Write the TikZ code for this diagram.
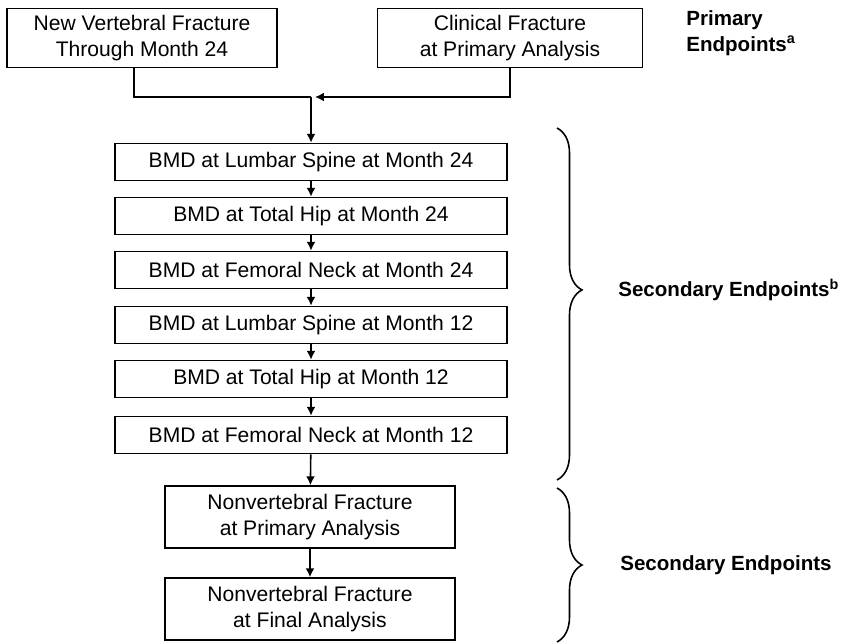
\documentclass[tikz,border=0pt]{standalone}
\usepackage{fontspec}
\setmainfont{Liberation Sans}
\usetikzlibrary{arrows.meta,decorations.pathreplacing}

\tikzset{
    endbox/.style={draw, line width=0.9pt, align=center, inner sep=0pt,
        font=\fontsize{12}{14.5}\selectfont},
    flow/.style={line width=0.9pt, -{Latex[length=5pt,width=5pt]}},
    bracket/.style={line width=0.9pt, decorate, decoration={brace,amplitude=0.5cm,aspect=#1}},
    grouplabel/.style={anchor=west, align=left, inner sep=0pt, font=\fontsize{11.7}{14.5}\selectfont\bfseries}
}

\begin{document}
\begin{tikzpicture}[x=0.02cm,y=-0.02cm]
        \useasboundingbox (0,0) rectangle (846,644);
        % primary endpoints
        \node[endbox, minimum width=5.4cm, minimum height=1.18cm] (newvert) at (142,38) {New Vertebral Fracture\\Through Month 24};
        \node[endbox, minimum width=5.3cm, minimum height=1.18cm] (clinical) at (510,38) {Clinical Fracture\\at Primary Analysis};
        \node[grouplabel] (primary) at (686,33) {Primary\\Endpoints\textsuperscript{a}};
        % BMD endpoints
        \node[endbox, minimum width=7.84cm, minimum height=0.74cm] (ls24) at (311,162) {BMD at Lumbar Spine at Month 24};
        \node[endbox, minimum width=7.84cm, minimum height=0.74cm] (th24) at (311,216) {BMD at Total Hip at Month 24};
        \node[endbox, minimum width=7.84cm, minimum height=0.74cm] (fn24) at (311,270) {BMD at Femoral Neck at Month 24};
        \node[endbox, minimum width=7.84cm, minimum height=0.74cm] (ls12) at (311,325) {BMD at Lumbar Spine at Month 12};
        \node[endbox, minimum width=7.84cm, minimum height=0.74cm] (th12) at (311,379) {BMD at Total Hip at Month 12};
        \node[endbox, minimum width=7.84cm, minimum height=0.74cm] (fn12) at (311,435) {BMD at Femoral Neck at Month 12};
        % nonvertebral fracture
        \node[endbox, minimum width=5.8cm, minimum height=1.24cm] (nvprim) at (310,517) {Nonvertebral Fracture\\at Primary Analysis};
        \node[endbox, minimum width=5.8cm, minimum height=1.24cm] (nvfinal) at (310,609) {Nonvertebral Fracture\\at Final Analysis};

        \coordinate (join) at (311,97);
        \draw[line width=0.9pt] ([xshift=-0.16cm]newvert.south) |- (join);
        \draw[flow] (clinical.south) |- ([xshift=0.08cm]join);
        \draw[flow] (join) -- (ls24);
        \draw[flow] (ls24) -- (th24);
        \draw[flow] (th24) -- (fn24);
        \draw[flow] (fn24) -- (ls12);
        \draw[flow] (ls12) -- (th12);
        \draw[flow] (th12) -- (fn12);
        \draw[flow] (fn12) -- (nvprim);
        \draw[flow] (nvprim) -- (nvfinal);

        % braces
        \draw[bracket=0.46] (557,128) -- (557,480);
        \node[grouplabel] (secondary) at (618,290) {Secondary Endpoints\textsuperscript{b}};
        \draw[bracket=0.5] (557,488) -- (557,642);
        \node[grouplabel] (secondary2) at (620,565) {Secondary Endpoints};
    \end{tikzpicture}
\end{document}
